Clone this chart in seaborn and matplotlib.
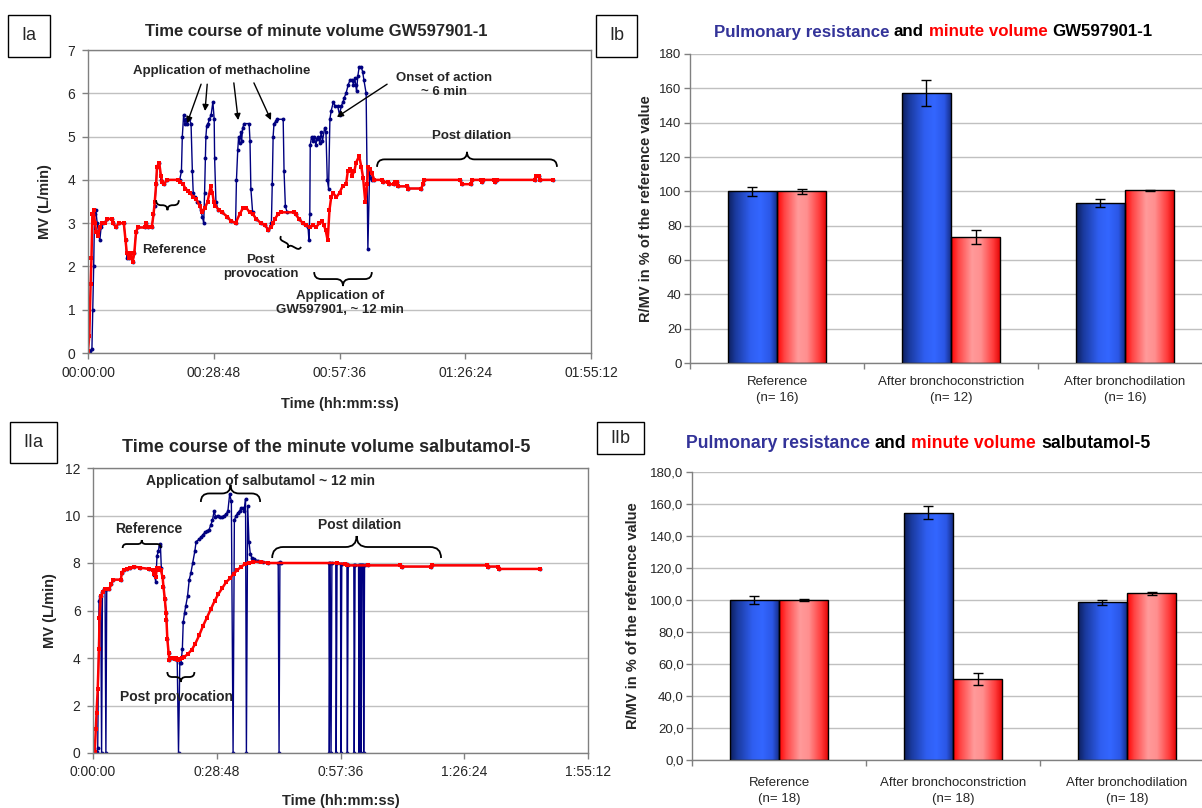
import numpy as np
import pandas as pd
import matplotlib
matplotlib.use("Agg")
import matplotlib.pyplot as plt
import seaborn as sns
from matplotlib.path import Path
from matplotlib.patches import PathPatch, Rectangle
from matplotlib.colors import LinearSegmentedColormap
from matplotlib.ticker import FuncFormatter

# ---- time courses: (minutes, MV in L/min) ----
ia_blue = [(0.0, 0.0), (0.5, 0.05), (0.9, 0.1), (1.1, 1.0), (1.3, 2.0), (1.5, 3.2), (1.8, 3.3), (2.1, 3.0),
           (2.4, 2.8), (2.7, 2.6), (3.0, 2.9), (3.5, 3.0), (4.4, 3.1), (5.4, 3.1), (5.8, 3.0), (6.4, 2.9),
           (7.0, 3.0), (8.2, 3.0), (8.6, 2.6), (8.9, 2.2), (9.4, 2.2), (9.8, 2.3), (10.2, 2.1), (10.6, 2.3),
           (11.0, 2.8), (11.4, 2.9), (13.0, 2.9), (13.3, 3.0), (13.8, 2.9), (14.6, 2.9), (15.0, 3.2), (15.3, 3.4),
           (15.6, 3.9), (15.8, 4.3), (16.3, 4.4), (16.7, 4.0), (17.0, 3.95), (17.5, 3.9), (18.0, 4.0), (21.0, 4.0),
           (21.4, 4.2), (21.6, 5.0), (21.9, 5.5), (22.2, 5.3), (22.4, 5.4), (22.7, 5.3), (23.2, 5.4), (23.6, 5.3),
           (23.9, 4.2), (24.1, 3.7), (24.4, 3.6), (25.0, 3.5), (25.4, 3.5), (25.8, 3.3), (26.2, 3.15), (26.5, 3.0),
           (26.7, 3.7), (26.9, 4.5), (27.0, 5.0), (27.2, 5.25), (27.5, 5.3), (27.8, 5.4), (28.2, 5.5), (28.6, 5.8),
           (28.9, 5.4), (29.0, 4.5), (29.3, 3.5), (29.8, 3.3), (30.7, 3.25), (31.9, 3.15), (32.7, 3.05), (33.8, 3.0),
           (34.0, 4.0), (34.3, 4.7), (34.5, 5.0), (34.7, 4.85), (35.0, 5.1), (35.2, 4.9), (35.4, 5.2), (35.8, 5.3),
           (36.9, 5.3), (37.1, 4.9), (37.3, 3.8), (37.7, 3.25), (38.5, 3.1), (39.6, 3.0), (40.5, 2.95), (41.3, 2.85),
           (42.0, 3.0), (42.2, 3.9), (42.4, 5.0), (42.6, 5.3), (43.0, 5.35), (43.4, 5.4), (44.7, 5.4), (44.9, 4.2),
           (45.2, 3.4), (45.6, 3.25), (47.2, 3.25), (47.6, 3.2), (48.3, 3.1), (49.2, 3.0), (50.0, 2.95), (50.4, 2.9),
           (50.6, 2.6), (50.8, 3.2), (50.9, 4.8), (51.2, 5.0), (51.5, 4.9), (51.8, 5.0), (52.2, 4.8), (52.4, 4.95),
           (52.7, 5.0), (53.1, 4.85), (53.4, 5.1), (53.7, 4.9), (54.2, 5.2), (54.5, 5.1), (54.8, 4.0), (55.1, 3.8),
           (55.4, 5.4), (55.7, 5.6), (56.2, 5.8), (56.6, 5.7), (57.2, 5.7), (57.6, 5.5), (58.0, 5.7), (58.4, 5.8),
           (58.7, 5.9), (59.1, 6.0), (59.6, 6.2), (60.0, 6.3), (60.5, 6.3), (60.8, 6.2), (61.1, 6.35), (61.3, 6.2),
           (61.5, 6.05), (61.8, 6.4), (62.1, 6.6), (62.6, 6.6), (62.9, 6.5), (63.2, 6.3), (63.7, 6.0), (64.1, 2.4),
           (64.5, 4.2), (64.9, 4.05), (65.0, 4.0)]
ia_red = [(0.0, 0.05), (0.3, 0.4), (0.6, 1.6), (0.8, 2.2), (1.0, 3.2), (1.3, 3.3), (1.6, 3.0), (1.9, 2.8),
          (2.3, 2.7), (2.7, 2.9), (3.2, 3.0), (4.0, 3.0), (4.4, 3.1), (5.4, 3.1), (5.8, 3.0), (6.4, 2.9),
          (7.0, 3.0), (8.2, 3.0), (8.6, 2.6), (8.9, 2.3), (9.4, 2.2), (9.8, 2.3), (10.2, 2.1), (10.6, 2.3),
          (11.0, 2.8), (11.4, 2.9), (13.0, 2.9), (13.3, 3.0), (13.8, 2.9), (14.6, 2.9), (15.0, 3.2), (15.3, 3.5),
          (15.6, 3.9), (15.8, 4.3), (16.3, 4.4), (16.7, 4.1), (17.0, 3.95), (17.5, 3.9), (18.0, 4.0), (20.5, 4.0),
          (21.0, 3.95), (21.8, 3.9), (22.3, 3.8), (22.9, 3.75), (23.4, 3.7), (24.1, 3.6), (24.8, 3.55), (25.6, 3.4),
          (26.2, 3.25), (26.8, 3.35), (27.4, 3.5), (28.1, 3.85), (28.5, 3.7), (28.8, 3.5), (29.2, 3.4), (30.0, 3.3),
          (30.7, 3.25), (31.9, 3.15), (32.7, 3.05), (33.8, 3.0), (34.7, 3.2), (35.5, 3.35), (36.3, 3.35), (37.0, 3.25),
          (37.8, 3.2), (38.5, 3.1), (39.6, 3.0), (40.5, 2.95), (41.3, 2.85), (42.0, 2.9), (42.4, 3.0), (42.8, 3.1),
          (43.5, 3.2), (44.2, 3.25), (47.2, 3.25), (47.6, 3.2), (48.3, 3.1), (49.2, 3.0), (50.0, 2.95), (50.8, 2.9),
          (51.6, 2.95), (52.2, 2.9), (53.0, 3.0), (53.5, 3.05), (54.0, 2.95), (54.4, 2.85), (54.9, 2.6), (55.3, 3.3),
          (55.7, 3.6), (56.1, 3.7), (56.9, 3.6), (57.6, 3.7), (58.3, 3.85), (59.1, 3.9), (59.5, 4.2), (60.1, 4.25),
          (60.5, 4.1), (61.0, 4.2), (61.4, 4.4), (62.1, 4.55), (62.6, 4.3), (63.0, 4.05), (63.5, 3.5), (63.9, 3.9),
          (64.2, 4.3), (64.6, 4.25), (65.0, 4.15)]
ia_tail = [(65.6, 4.0), (67.3, 4.0), (67.5, 3.95), (68.7, 3.95), (69.0, 3.9), (70.0, 3.9), (70.2, 3.95),
           (70.7, 3.95), (71.0, 3.85), (73.0, 3.85), (73.2, 3.8), (76.3, 3.8), (76.7, 3.9), (77.0, 4.0),
           (85.3, 4.0), (85.6, 3.9), (87.8, 3.9), (88.0, 4.0), (90.0, 4.0), (90.2, 3.95), (90.5, 4.0),
           (93.0, 4.0), (93.3, 3.95), (93.6, 4.0), (102.3, 4.0), (102.5, 4.1), (103.3, 4.1), (103.6, 4.0),
           (106.4, 4.0)]

iia_blue = [(0.0, 0.0), (0.4, 0.0), (0.65, 0.0), (0.9, 0.05), (1.1, 0.2), (1.4, 6.4), (1.6, 6.6), (1.8, 6.6),
            (2.0, 0.0), (2.2, 6.8), (2.5, 6.9), (2.8, 6.9), (3.0, 0.0), (3.2, 6.9), (3.8, 6.9), (4.2, 7.1),
            (4.7, 7.3), (6.5, 7.3), (6.7, 7.6), (7.1, 7.7), (8.0, 7.75), (8.6, 7.8), (9.6, 7.85), (11.0, 7.8),
            (13.1, 7.75), (14.0, 7.7), (14.3, 7.5), (14.6, 7.2), (14.9, 8.3), (15.2, 8.5), (15.5, 8.8), (15.7, 8.7),
            (15.9, 7.8), (16.2, 7.4), (16.4, 7.0), (16.7, 6.5), (17.0, 5.9), (17.1, 5.6), (17.3, 4.8), (17.6, 4.2),
            (17.8, 3.9), (18.3, 4.0), (19.0, 3.95), (19.6, 3.9), (19.9, 0.0), (20.2, 3.8), (20.5, 3.8), (20.8, 4.4),
            (21.0, 5.5), (21.3, 5.9), (21.6, 6.2), (22.0, 6.6), (22.4, 7.3), (22.8, 7.6), (23.2, 8.0), (23.7, 8.5),
            (24.0, 8.9), (24.7, 9.0), (25.2, 9.1), (25.6, 9.2), (26.1, 9.3), (26.5, 9.35), (27.0, 9.4), (27.4, 9.6),
            (27.8, 9.8), (28.2, 10.2), (28.5, 9.95), (29.0, 10.0), (29.5, 9.95), (30.1, 9.95), (30.6, 10.0),
            (31.0, 10.05), (31.4, 10.2), (31.8, 10.9), (32.2, 10.6), (32.6, 0.0), (32.9, 9.8), (33.3, 10.0),
            (33.7, 10.1), (34.1, 10.2), (34.5, 10.3), (34.8, 10.3), (35.2, 10.2), (35.5, 10.7), (35.7, 0.0),
            (36.0, 10.4), (36.3, 8.9), (36.6, 8.4), (37.0, 8.2), (37.5, 8.15), (38.5, 8.1), (39.5, 8.05), (40.8, 8.0),
            (43.1, 8.0), (43.3, 0.0), (43.5, 8.05), (43.8, 8.0), (54.9, 8.0), (55.0, 0.0), (55.2, 8.0), (55.4, 0.0),
            (55.6, 8.0), (56.5, 8.0), (56.6, 0.0), (56.8, 8.0), (57.6, 7.95), (57.7, 0.0), (57.9, 7.95), (59.1, 7.95),
            (59.2, 0.0), (59.4, 7.9), (60.7, 7.9), (60.8, 0.0), (61.0, 7.9), (61.8, 7.9), (61.9, 0.0), (62.1, 7.9),
            (62.3, 7.9), (62.4, 0.0), (62.6, 7.9), (62.9, 7.9), (63.0, 0.0), (63.2, 7.9)]
iia_red = [(0.0, 0.05), (0.4, 0.05), (0.65, 1.0), (0.83, 1.7), (1.1, 2.7), (1.4, 4.4), (1.5, 5.7), (1.8, 6.6),
           (2.3, 6.8), (2.9, 6.9), (3.8, 6.9), (4.2, 7.1), (4.7, 7.3), (6.5, 7.3), (6.7, 7.6), (7.1, 7.7),
           (8.0, 7.75), (8.6, 7.8), (9.6, 7.85), (11.0, 7.8), (13.1, 7.75), (14.0, 7.7), (14.3, 7.55), (14.6, 7.4),
           (14.8, 7.7), (15.0, 7.8), (15.4, 7.8), (15.8, 7.7), (16.2, 7.4), (16.4, 7.0), (16.7, 6.5), (17.0, 5.9),
           (17.1, 5.6), (17.3, 4.8), (17.6, 4.2), (17.8, 3.9), (18.3, 4.0), (19.0, 3.95), (19.4, 4.0), (19.8, 3.9),
           (20.3, 3.95), (20.8, 4.0), (21.2, 4.05), (22.0, 4.15), (23.0, 4.35), (23.8, 4.6), (24.7, 4.95),
           (25.6, 5.35), (26.5, 5.7), (27.4, 6.05), (28.3, 6.4), (29.2, 6.7), (30.1, 6.95), (31.0, 7.2),
           (31.9, 7.35), (32.7, 7.55), (33.6, 7.7), (34.5, 7.85), (35.4, 7.95), (36.3, 8.0), (37.2, 8.05),
           (39.0, 8.05), (40.8, 8.0), (56.8, 8.0), (58.6, 7.95), (59.0, 7.9)]
iia_tail = [(64.0, 7.9), (71.5, 7.9), (71.8, 7.85), (78.7, 7.85), (79.0, 7.9), (91.6, 7.9), (91.9, 7.85),
            (94.3, 7.85), (94.6, 7.75), (104.1, 7.75)]

# ---- bar charts: % of reference value, mean and error ----
ib_groups = ["Reference\n(n= 16)", "After bronchoconstriction\n(n= 12)", "After bronchodilation\n(n= 16)"]
ib_resistance = [100.0, 157.5, 93.0]
ib_resistance_err = [2.7, 7.6, 2.4]
ib_volume = [100.0, 73.5, 100.6]
ib_volume_err = [1.4, 3.9, 0.3]

iib_groups = ["Reference\n(n= 18)", "After bronchoconstriction\n(n= 18)", "After bronchodilation\n(n= 18)"]
iib_resistance = [100.0, 154.5, 98.5]
iib_resistance_err = [2.5, 4.0, 1.5]
iib_volume = [100.0, 50.8, 104.3]
iib_volume_err = [0.8, 3.8, 1.0]

W, H = 1202, 808
NAVY = "#000080"
RED = "#FF0000"
GRID = "#C0C0C0"
AXIS = "#808080"

sns.set_style("white")
plt.rcParams["font.family"] = ["Liberation Sans", "DejaVu Sans"]

blue_cmap = LinearSegmentedColormap.from_list("bluebar", [(0, "#0d1f5c"), (0.15, "#1a3a9e"), (0.45, "#2f5ef0"),
                                                          (0.65, "#3366ff"), (0.85, "#2b57e6"), (1, "#13287a")])
red_cmap = LinearSegmentedColormap.from_list("redbar", [(0, "#ff0000"), (0.15, "#ff4545"), (0.42, "#ff9a9a"),
                                                        (0.6, "#ff8f8f"), (0.85, "#ff3a3a"), (1, "#e00000")])


def axes_at(fig, x0, y0, x1, y1):
    return fig.add_axes([x0 / W, 1 - y1 / H, (x1 - x0) / W, (y1 - y0) / H])


def hms_formatter(lead):
    def f(x, pos):
        s = int(round(x * 60))
        h, rem = divmod(s, 3600)
        m, sec = divmod(rem, 60)
        return f"{h:02d}:{m:02d}:{sec:02d}" if lead else f"{h}:{m:02d}:{sec:02d}"
    return FuncFormatter(f)


def brace(ax, p0, p1, depth, side=1, lw=1.3):
    """curly brace between two data points, depth in pixels, tip on the +normal side"""
    tr = ax.transData
    a = tr.transform(p0)
    b = tr.transform(p1)
    L = np.hypot(*(b - a))
    u = (b - a) / L
    n = np.array([-u[1], u[0]]) * side
    m = (a + b) / 2
    r = min(depth / 2, L / 4)
    h = n * depth / 2
    pts = [a, a + h, a + h + u * r, m + h - u * r, m + h, m + n * depth,
           m + h, m + h + u * r, b + h - u * r, b + h, b]
    codes = [Path.MOVETO, Path.CURVE3, Path.CURVE3, Path.LINETO, Path.CURVE3, Path.CURVE3,
             Path.CURVE3, Path.CURVE3, Path.LINETO, Path.CURVE3, Path.CURVE3]
    verts = tr.inverted().transform(np.array(pts))
    ax.add_patch(PathPatch(Path(verts, codes), fill=False, lw=lw, edgecolor="black", clip_on=False, zorder=5))


def arrow(ax, tail, head):
    ax.annotate("", xy=head, xytext=tail,
                arrowprops=dict(arrowstyle="-|>", color="black", lw=1, mutation_scale=9, shrinkA=0, shrinkB=0))


def note(ax, x, y, s, size=9.5):
    ax.text(x, y, s, ha="center", va="center", fontsize=size, fontweight="bold", zorder=6)


def time_panel(ax, blue, red, tail, ymax, ystep, lead, xlab_y, ylab_x):
    b = pd.DataFrame(blue + tail, columns=["t", "v"])
    r = pd.DataFrame(red + tail, columns=["t", "v"])
    sns.lineplot(data=b, x="t", y="v", ax=ax, sort=False, estimator=None, errorbar=None, color=NAVY,
                 linewidth=1.0, marker="o", markersize=2.8, markeredgewidth=0, legend=False)
    sns.lineplot(data=r, x="t", y="v", ax=ax, sort=False, estimator=None, errorbar=None, color=RED,
                 linewidth=1.8, marker="s", markersize=2.6, markeredgewidth=0, legend=False)
    ax.set_xlim(0, 115.2)
    ax.set_ylim(0, ymax)
    ax.set_xticks(np.arange(5) * 28.8)
    ax.xaxis.set_major_formatter(hms_formatter(lead))
    ax.set_yticks(np.arange(0, ymax + 1, ystep))
    ax.grid(axis="y", color=GRID, lw=1)
    ax.set_axisbelow(True)
    for s in ax.spines.values():
        s.set_visible(True)
        s.set_color(AXIS)
        s.set_linewidth(1)
    ax.tick_params(axis="both", bottom=True, left=True, direction="out", length=4, width=1,
                   color=AXIS, labelsize=10, pad=5)
    ax.set_xlabel("Time (hh:mm:ss)", fontsize=10.5, fontweight="bold")
    ax.set_ylabel("MV (L/min)", fontsize=10.5, fontweight="bold")
    ax.xaxis.set_label_coords(0.5, xlab_y)
    ax.yaxis.set_label_coords(ylab_x, 0.5)


def bar_panel(ax, groups, res, res_err, vol, vol_err, comma, ylab_x, pad):
    df = pd.DataFrame({"group": groups * 2,
                       "series": ["resistance"] * 3 + ["volume"] * 3,
                       "value": res + vol})
    sns.barplot(data=df, x="group", y="value", hue="series", order=groups,
                hue_order=["resistance", "volume"], palette=["#3366ff", "#ff8080"],
                width=0.565, errorbar=None, edgecolor="black", linewidth=1, legend=False, ax=ax)
    for cont, cmap, err in zip(list(ax.containers)[:2], [blue_cmap, red_cmap], [res_err, vol_err]):
        xs, hs = [], []
        grad = np.linspace(0, 1, 256).reshape(1, -1)
        for bar in cont:
            x, w, h = bar.get_x(), bar.get_width(), bar.get_height()
            bar.set_facecolor("none")
            bar.set_zorder(3)
            im = ax.imshow(grad, cmap=cmap, extent=[x, x + w, 0, h], aspect="auto", origin="lower", zorder=2.5)
            im.set_clip_path(bar)
            xs.append(x + w / 2)
            hs.append(h)
        ax.errorbar(xs, hs, yerr=err, fmt="none", ecolor="black", elinewidth=1, capsize=3.5,
                    capthick=1, zorder=4)
    ax.set_xlim(-0.5, 2.5)
    ax.set_ylim(0, 180)
    ax.set_yticks(np.arange(0, 181, 20))
    if comma:
        ax.yaxis.set_major_formatter(FuncFormatter(lambda v, p: f"{v:.1f}".replace(".", ",")))
    ax.set_xticks([0, 1, 2])
    ax.set_xticklabels(groups)
    ax.set_xticks([-0.5, 0.5, 1.5, 2.5], minor=True)
    ax.grid(axis="y", color=GRID, lw=1)
    ax.set_axisbelow(True)
    for k in ["top", "right"]:
        ax.spines[k].set_visible(False)
    for k in ["left", "bottom"]:
        ax.spines[k].set_color(AXIS)
        ax.spines[k].set_linewidth(1)
    ax.tick_params(axis="y", left=True, direction="out", length=4, width=1, color=AXIS, labelsize=9.5, pad=2)
    ax.tick_params(axis="x", which="major", bottom=True, length=0, labelsize=9.5, pad=pad)
    ax.tick_params(axis="x", which="minor", bottom=True, direction="out", length=4, width=1, color=AXIS)
    for lab in ax.get_xticklabels():
        lab.set_linespacing(1.45)
    ax.set_xlabel("")
    ax.set_ylabel("R/MV in % of the reference value", fontsize=10.5, fontweight="bold")
    ax.yaxis.set_label_coords(ylab_x, 0.5)


def rich_title(fig, pieces, cx, cy, size):
    rend = fig.canvas.get_renderer()
    probe1 = fig.text(0, 0, "x x", fontsize=size, fontweight="bold")
    probe2 = fig.text(0, 0, "xx", fontsize=size, fontweight="bold")
    gap = probe1.get_window_extent(rend).width - probe2.get_window_extent(rend).width
    probe1.remove()
    probe2.remove()
    texts = [fig.text(0, 0, s, color=c, fontsize=size, fontweight="bold", ha="left", va="center")
             for s, c in pieces]
    widths = [t.get_window_extent(rend).width for t in texts]
    x = cx - (sum(widths) + gap * (len(widths) - 1)) / 2
    for t, w in zip(texts, widths):
        t.set_position((x / W, 1 - cy / H))
        x += w + gap


def panel_tag(fig, s, x0, y0, x1, y1):
    fig.add_artist(Rectangle((x0 / W, 1 - y1 / H), (x1 - x0) / W, (y1 - y0) / H, transform=fig.transFigure,
                             fill=False, edgecolor="black", lw=1))
    fig.text((x0 + x1) / 2 / W, 1 - (y0 + y1) / 2 / H, s, ha="center", va="center", fontsize=13)


fig = plt.figure(figsize=(W / 100, H / 100), dpi=100)

# ---- Ia ----
ax1 = axes_at(fig, 88, 50, 591, 353)
time_panel(ax1, ia_blue, ia_red, ia_tail, 7, 1, True, -0.145, -0.072)
fig.text(316 / W, 1 - 31 / H, "Time course of minute volume GW597901-1", ha="center", va="center",
         fontsize=12, fontweight="bold")
note(ax1, 30.7, 6.51, "Application of methacholine")
arrow(ax1, (25.9, 6.21), (22.7, 5.31))
arrow(ax1, (27.3, 6.21), (26.8, 5.59))
arrow(ax1, (33.4, 6.24), (34.4, 5.38))
arrow(ax1, (38.0, 6.24), (41.9, 5.38))
note(ax1, 81.5, 6.19, "Onset of action\n~ 6 min")
arrow(ax1, (68.5, 6.21), (57.0, 5.45))
note(ax1, 87.9, 5.01, "Post dilation")
brace(ax1, (66.2, 4.30), (107.4, 4.30), 15, side=1)
brace(ax1, (15.6, 3.53), (20.8, 3.53), 10, side=-1)
note(ax1, 19.7, 2.38, "Reference")
brace(ax1, (44.2, 2.70), (48.8, 2.45), 7, side=-1)
note(ax1, 39.5, 1.99, "Post\nprovocation")
brace(ax1, (51.8, 1.87), (65.0, 1.87), 14, side=-1)
note(ax1, 57.7, 1.16, "Application of\nGW597901, ~ 12 min")

# ---- Ib ----
ax2 = axes_at(fig, 690, 54, 1212, 363)
bar_panel(ax2, ib_groups, ib_resistance, ib_resistance_err, ib_volume, ib_volume_err, False, -0.071, 9.5)
rich_title(fig, [("Pulmonary resistance", "#333399"), ("and", "black"), ("minute volume", RED),
                 ("GW597901-1", "black")], 933, 32, 12.2)

# ---- IIa ----
ax3 = axes_at(fig, 93, 468, 588, 753)
time_panel(ax3, iia_blue, iia_red, iia_tail, 12, 2, False, -0.144, -0.073)
fig.text(326 / W, 1 - 447 / H, "Time course of the minute volume salbutamol-5", ha="center", va="center",
         fontsize=13, fontweight="bold")
note(ax3, 39.0, 11.45, "Application of salbutamol ~ 12 min", 10)
brace(ax3, (25.1, 10.57), (38.9, 10.57), 17, side=1)
note(ax3, 13.0, 9.43, "Reference", 10)
brace(ax3, (6.9, 8.63), (15.8, 8.63), 8, side=1)
note(ax3, 62.1, 9.6, "Post dilation", 10)
brace(ax3, (41.7, 8.21), (81.0, 8.21), 22, side=1)
note(ax3, 19.5, 2.36, "Post provocation", 10)
brace(ax3, (17.3, 3.41), (23.6, 3.41), 10, side=-1)

# ---- IIb ----
ax4 = axes_at(fig, 692, 472, 1214, 760)
bar_panel(ax4, iib_groups, iib_resistance, iib_resistance_err, iib_volume, iib_volume_err, True, -0.10, 12)
rich_title(fig, [("Pulmonary resistance", "#333399"), ("and", "black"), ("minute volume", RED),
                 ("salbutamol-5", "black")], 918, 443, 12.7)

panel_tag(fig, "Ia", 8, 15, 50, 57)
panel_tag(fig, "Ib", 596, 15, 637, 57)
panel_tag(fig, "IIa", 10, 422, 57, 463)
panel_tag(fig, "IIb", 597, 422, 644, 454)

fig.savefig("out.png", dpi=100)
